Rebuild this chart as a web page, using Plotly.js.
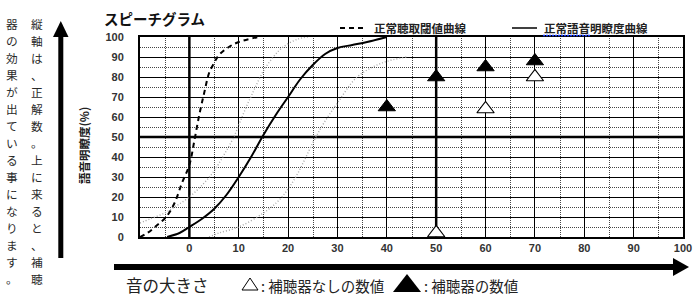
<!DOCTYPE html>
<html>
<head>
<meta charset="utf-8">
<script src="https://cdn.plot.ly/plotly-3.0.1.min.js"></script>
<style>
html,body{margin:0;padding:0;background:#fff;}
#chart{width:700px;height:304px;}
</style>
</head>
<body>
<div id="chart"></div>
<script>
// ---------- data ----------
const chartTitle = 'スピーチグラム';
const yAxisTitle = '語音明瞭度(%)';
const xTickVals = [0, 10, 20, 30, 40, 50, 60, 70, 80, 90, 100];
const yTickVals = [0, 10, 20, 30, 40, 50, 60, 70, 80, 90, 100];
const xDotGrid = [-5, 5, 15, 25, 35, 45, 55, 65, 75, 85, 95];
const yDotGrid = [5, 15, 25, 35, 45, 55, 65, 75, 85, 95];
const boldGridX = [0, 50];
const boldGridY = [50];

const thresholdName = '正常聴取閾値曲線';
const thresholdX = [-10, -8.5, -6.5, -4.7, -3, -1.5, 0, 1, 2, 3, 4, 5, 6, 8, 10, 14];
const thresholdY = [0, 2, 6, 10, 17, 27, 36, 48, 61, 72, 82, 87, 91, 95, 97.5, 100];

const speechName = '正常語音明瞭度曲線';
const speechX = [-4.5, -2, 0, 2.5, 5, 7.5, 10, 12.5, 15, 17.5, 20, 22.5, 25, 27.5, 30, 33, 36, 40];
const speechY = [0, 2, 5, 9, 14, 21, 30, 40, 51, 61, 70, 79, 86, 91.5, 94.5, 96, 97.5, 100];

const faintAX = [-10, -8, -5, -3, 0, 3, 5, 7, 9, 11, 13, 15, 17, 19, 22, 24];
const faintAY = [7, 9, 12, 15, 20, 27, 33, 41, 50, 62, 73, 83, 90, 95, 99, 100];

const faintBX = [4, 6, 10, 15, 18, 20, 22, 25, 27, 30, 34, 39, 44];
const faintBY = [0, 2, 5, 12, 18, 24, 32, 47, 56, 67, 80, 87, 90];

const aidedName = '補聴器の数値';
const aidedX = [40, 50, 60, 70];
const aidedY = [65, 80, 85, 88];

const unaidedName = '補聴器なしの数値';
const unaidedX = [50, 60, 70];
const unaidedY = [2, 64, 80];

const noteColumn1 = '縦軸は、正解数。上に来ると、補聴';
const noteColumn2 = '器の効果が出ている事になります。';
const xAxisLabel = '音の大きさ';

// ---------- layout helpers (pixel -> paper) ----------
const L = 140, R = 683, T = 37, B = 237;
const W = R - L, H = B - T;
const X_RANGE = [-10, 100], Y_RANGE = [0, 100];
const px = x => (x - L) / W;
const py = y => (B - y) / H;
const pathPx = pts => pts.map((p, i) => (i ? 'L' : 'M') + px(p[0]) + ',' + py(p[1])).join(' ') + ' Z';
// crisp pixel position of a grid value
const gridPxX = v => Math.round(L + (v - X_RANGE[0]) / (X_RANGE[1] - X_RANGE[0]) * W) + 0.5;
const gridPxY = v => Math.round(B - (v - Y_RANGE[0]) / (Y_RANGE[1] - Y_RANGE[0]) * H) + 0.5;

const jp = 'Noto Sans CJK JP, sans-serif';
const num = 'Liberation Sans, Arial, sans-serif';

const traces = [
  {x: faintAX, y: faintAY, mode: 'lines', line: {color: '#aaaaaa', width: 1.4, dash: '1px,2px', shape: 'spline'}, hoverinfo: 'skip', showlegend: false},
  {x: faintBX, y: faintBY, mode: 'lines', line: {color: '#aaaaaa', width: 1.4, dash: '1px,2px', shape: 'spline'}, hoverinfo: 'skip', showlegend: false},
  {x: thresholdX, y: thresholdY, name: thresholdName, mode: 'lines', line: {color: '#000', width: 2, dash: '5px,4px', shape: 'spline'}, showlegend: false},
  {x: speechX, y: speechY, name: speechName, mode: 'lines', line: {color: '#000', width: 2, shape: 'spline'}, showlegend: false},
  {x: aidedX, y: aidedY, name: aidedName, mode: 'markers', cliponaxis: false,
   marker: {symbol: 'triangle-up', size: 15, color: '#000', line: {color: '#000', width: 1}}, showlegend: false},
  {x: unaidedX, y: unaidedY, name: unaidedName, mode: 'markers', cliponaxis: false,
   marker: {symbol: 'triangle-up', size: 15, color: '#fff', line: {color: '#000', width: 1.2}}, showlegend: false}
];

const shapes = [];
// dotted half-step grid
xDotGrid.forEach(v => shapes.push({type: 'line', xref: 'paper', yref: 'paper', x0: px(gridPxX(v)), x1: px(gridPxX(v)), y0: 0, y1: 1, line: {color: '#444', width: 1, dash: '1px,1px'}, layer: 'below'}));
yDotGrid.forEach(v => shapes.push({type: 'line', xref: 'paper', yref: 'paper', x0: 0, x1: 1, y0: py(gridPxY(v)), y1: py(gridPxY(v)), line: {color: '#444', width: 1, dash: '1px,1px'}, layer: 'below'}));
// bold grid lines
boldGridX.forEach(v => shapes.push({type: 'line', xref: 'x', yref: 'paper', x0: v, x1: v, y0: 0, y1: 1, line: {color: '#000', width: 2.5}, layer: 'below'}));
boldGridY.forEach(v => shapes.push({type: 'line', xref: 'paper', yref: 'y', x0: 0, x1: 1, y0: v, y1: v, line: {color: '#000', width: 2.5}, layer: 'below'}));

// vertical big arrow
shapes.push({type: 'rect', xref: 'paper', yref: 'paper', x0: px(58.3), x1: px(63.3), y0: py(258), y1: py(36), fillcolor: '#000', line: {width: 0}});
shapes.push({type: 'path', xref: 'paper', yref: 'paper', path: pathPx([[53, 37], [68.5, 37], [60.8, 21]]), fillcolor: '#000', line: {width: 0}});
// horizontal big arrow
shapes.push({type: 'rect', xref: 'paper', yref: 'paper', x0: px(114), x1: px(674), y0: py(270), y1: py(264), fillcolor: '#000', line: {width: 0}});
shapes.push({type: 'path', xref: 'paper', yref: 'paper', path: pathPx([[673, 258], [689, 267], [673, 276]]), fillcolor: '#000', line: {width: 0}});
// top legend samples
shapes.push({type: 'line', xref: 'paper', yref: 'paper', x0: px(340), x1: px(365), y0: py(28), y1: py(28), line: {color: '#000', width: 2, dash: '5px,4px'}});
shapes.push({type: 'line', xref: 'paper', yref: 'paper', x0: px(512), x1: px(537), y0: py(28), y1: py(28), line: {color: '#000', width: 1.5}});
shapes.push({type: 'line', xref: 'paper', yref: 'paper', x0: px(543), x1: px(590), y0: py(35.5), y1: py(35.5), line: {color: '#1a3cff', width: 1.5, dash: '2px,1px'}});
// bottom legend triangles
shapes.push({type: 'path', xref: 'paper', yref: 'paper', path: pathPx([[242, 290], [258, 290], [250, 278]]), fillcolor: '#fff', line: {color: '#000', width: 1}});
shapes.push({type: 'path', xref: 'paper', yref: 'paper', path: pathPx([[393, 292], [421, 292], [407, 274]]), fillcolor: '#000', line: {width: 0}});

const ann = (text, x, y, opts) => Object.assign({text: text, xref: 'paper', yref: 'paper', x: px(x), y: py(y), showarrow: false, xanchor: 'left', yanchor: 'middle'}, opts);

const annotations = [
  ann(chartTitle, 102, 18, {font: {family: jp, size: 14.5, color: '#111', weight: 'bold'}}),
  ann(thresholdName, 372, 28, {font: {family: jp, size: 11.5, color: '#222', weight: 'bold'}}),
  ann(speechName, 542, 28, {font: {family: jp, size: 11.5, color: '#222', weight: 'bold'}}),
  ann(yAxisTitle, 84, 146, {xanchor: 'center', textangle: -90, font: {family: jp, size: 11.5, color: '#222', weight: 'bold'}}),
  ann(xAxisLabel, 124, 285, {font: {family: jp, size: 16.5, color: '#222'}}),
  ann(': ' + unaidedName, 259, 285, {font: {family: jp, size: 14.5, color: '#222'}}),
  ann(': ' + aidedName, 422, 285, {font: {family: jp, size: 14.5, color: '#222'}})
];
// vertical (tategaki) note, one character per cell
[[noteColumn1, 36.5], [noteColumn2, 11.5]].forEach(([txt, cx]) => {
  Array.from(txt).forEach((ch, i) => {
    annotations.push(ann(ch, cx, 23.5 + i * 17, {xanchor: 'center', font: {family: jp, size: 11.7, color: '#2a2a2a'}}));
  });
});

const axisCommon = {
  showgrid: true, gridcolor: '#000', gridwidth: 1,
  showline: true, mirror: true, linecolor: '#000', linewidth: 2,
  ticks: '', fixedrange: true, zeroline: false, tickmode: 'array',
  tickfont: {family: num, size: 11, color: '#333', weight: 'bold'}
};

const layout = {
  width: 700, height: 304,
  margin: {l: L, r: 700 - R, t: T, b: 304 - B, pad: 0},
  paper_bgcolor: '#fff', plot_bgcolor: 'rgba(0,0,0,0)',
  showlegend: false,
  xaxis: Object.assign({}, axisCommon, {range: X_RANGE, tickvals: xTickVals, ticktext: xTickVals.map(String)}),
  yaxis: Object.assign({}, axisCommon, {range: Y_RANGE, tickvals: yTickVals, ticktext: yTickVals.map(String), ticklabelstandoff: 12}),
  shapes: shapes,
  annotations: annotations
};

Plotly.newPlot('chart', traces, layout, {displayModeBar: false, staticPlot: true});
</script>
</body>
</html>
